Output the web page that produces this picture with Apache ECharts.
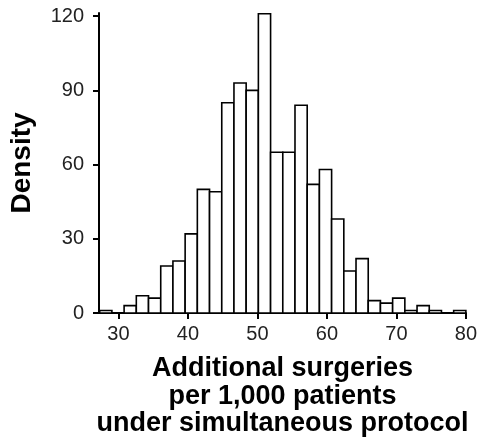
<!DOCTYPE html>
<html>
<head>
<meta charset="utf-8">
<script src="https://cdn.jsdelivr.net/npm/echarts@6/dist/echarts.min.js"></script>
<style>
  html, body { margin: 0; padding: 0; background: #fff; }
  #chart { width: 480px; height: 447px; }
</style>
</head>
<body>
<div id="chart"></div>
<script>
// Histogram of simulated additional surgeries (30 equal-width bins)
const binLow = 27.3;
const binHigh = 80;
const binCounts = [1, 0, 3, 7, 6, 19, 21, 32, 50, 49, 85, 93, 90, 121, 65,
                   65, 84, 52, 58, 38, 17, 22, 5, 4, 6, 1, 3, 1, 0, 1];
const xTicks = [30, 40, 50, 60, 70, 80];
const yTicks = [0, 30, 60, 90, 120];

const binWidth = (binHigh - binLow) / binCounts.length;
const histData = binCounts.map((c, i) => [binLow + i * binWidth, binLow + (i + 1) * binWidth, c]);

const FONT = '"Liberation Sans", Arial, Helvetica, sans-serif';
const chart = echarts.init(document.getElementById('chart'), null, { renderer: 'canvas' });

chart.setOption({
  animation: false,
  backgroundColor: '#fff',
  grid: { left: 98, right: 12, top: 13, bottom: 134, containLabel: false },
  xAxis: {
    type: 'value',
    min: 27.2,
    max: 80,
    name: 'Additional surgeries\nper 1,000 patients\nunder simultaneous protocol',
    nameLocation: 'middle',
    nameGap: 42,
    nameTextStyle: { fontFamily: FONT, fontSize: 27, fontWeight: 'bold', color: '#000', lineHeight: 27.5 },
    axisLine: { show: true, lineStyle: { color: '#000', width: 2 } },
    axisTick: { show: true, customValues: xTicks, length: 6, lineStyle: { color: '#000', width: 2 } },
    axisLabel: { customValues: xTicks, margin: 11, fontFamily: FONT, fontSize: 20, color: '#222' },
    splitLine: { show: false }
  },
  yAxis: {
    type: 'value',
    min: 0,
    max: 121.3,
    name: 'Density',
    nameLocation: 'middle',
    nameGap: 63,
    nameTextStyle: { fontFamily: FONT, fontSize: 28, fontWeight: 'bold', color: '#000' },
    axisLine: { show: true, lineStyle: { color: '#000', width: 2 } },
    axisTick: { show: true, customValues: yTicks, length: 6, lineStyle: { color: '#000', width: 2 } },
    axisLabel: { customValues: yTicks, margin: 15, fontFamily: FONT, fontSize: 20, color: '#222' },
    splitLine: { show: false }
  },
  series: [{
    type: 'custom',
    data: histData,
    encode: { x: [0, 1], y: 2 },
    renderItem: function (params, api) {
      const p0 = api.coord([api.value(0), 0]);
      const p1 = api.coord([api.value(1), api.value(2)]);
      return {
        type: 'rect',
        shape: { x: p0[0], y: p1[1], width: p1[0] - p0[0], height: p0[1] - p1[1] },
        style: { fill: '#fff', stroke: '#000', lineWidth: 1.6 }
      };
    }
  }]
});
</script>
</body>
</html>
